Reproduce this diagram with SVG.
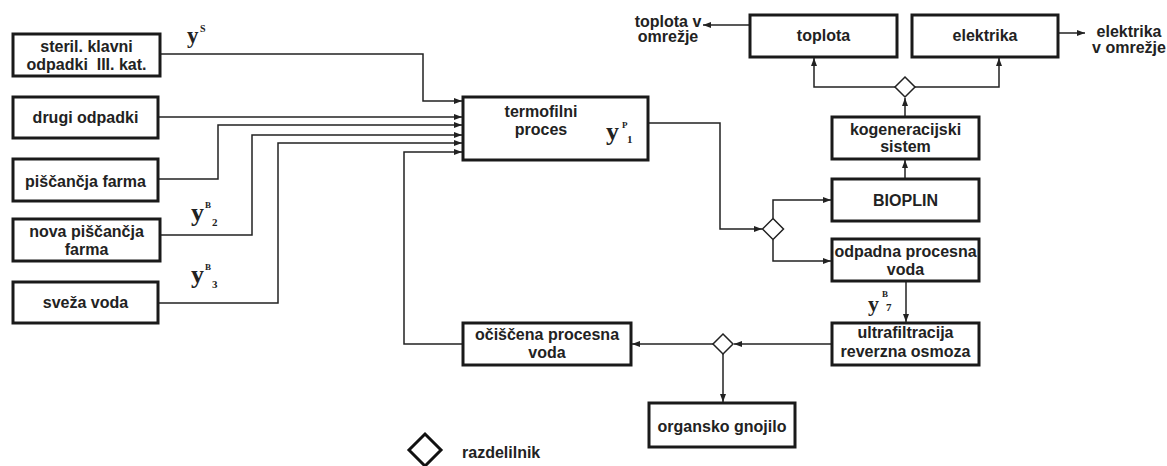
<svg xmlns="http://www.w3.org/2000/svg" width="1167" height="466" viewBox="0 0 1167 466">
<style>
.box{fill:#fff;stroke:#1a1a1a;stroke-width:3}
.t{font-family:"Liberation Sans",Arial,sans-serif;font-weight:bold;font-size:16px;fill:#222;text-anchor:middle}
.tl{font-family:"Liberation Sans",Arial,sans-serif;font-weight:bold;font-size:16px;fill:#222}
.c{fill:none;stroke:#222;stroke-width:1.5}
.dia{fill:#fff;stroke:#222;stroke-width:1.5}
.v{font-family:"Liberation Serif","Times New Roman",serif;font-weight:bold;fill:#222}
</style>
<defs>
<marker id="a" markerUnits="userSpaceOnUse" markerWidth="9" markerHeight="7" refX="8" refY="3" orient="auto">
<path d="M0,0 L8,3 L0,6 z" fill="#222"/>
</marker>
</defs>
<rect width="1167" height="466" fill="#fff"/>
<g id="connectors">
<path class="c" d="M160,54 H423 V101 H462" marker-end="url(#a)"/>
<path class="c" d="M158,117 H462" marker-end="url(#a)"/>
<path class="c" d="M158,179 H218 V125 H462" marker-end="url(#a)"/>
<path class="c" d="M160,235 H252 V135 H462" marker-end="url(#a)"/>
<path class="c" d="M158,303 H278 V143 H462" marker-end="url(#a)"/>
<path class="c" d="M463,344 H404 V152 H462" marker-end="url(#a)"/>
<path class="c" d="M648,123 H720 V229 H762" marker-end="url(#a)"/>
<path class="c" d="M773,218.5 V200 H831" marker-end="url(#a)"/>
<path class="c" d="M773,239.5 V261 H831" marker-end="url(#a)"/>
<path class="c" d="M905,179 V160" marker-end="url(#a)"/>
<path class="c" d="M905,117 V98" marker-end="url(#a)"/>
<path class="c" d="M895,87 H814 V58" marker-end="url(#a)"/>
<path class="c" d="M915,87 H999 V58" marker-end="url(#a)"/>
<path class="c" d="M750,25 H703" marker-end="url(#a)"/>
<path class="c" d="M1058,33 H1085" marker-end="url(#a)"/>
<path class="c" d="M906,281 V322" marker-end="url(#a)"/>
<path class="c" d="M832,344 H734" marker-end="url(#a)"/>
<path class="c" d="M713,344 H632" marker-end="url(#a)"/>
<path class="c" d="M723,354 V402" marker-end="url(#a)"/>
</g>
<g id="n-steril"><rect class="box" x="13" y="34" width="147" height="42"/><text class="t" x="86.5" y="52">steril. klavni</text><text class="t" x="86.5" y="70">odpadki&#160; III. kat.</text></g>
<g id="n-drugi"><rect class="box" x="13" y="97" width="145" height="41"/><text class="t" x="85.5" y="123">drugi odpadki</text></g>
<g id="n-piscancja"><rect class="box" x="13" y="159" width="145" height="42"/><text class="t" x="85.5" y="187">piščančja farma</text></g>
<g id="n-nova"><rect class="box" x="13" y="219" width="147" height="42"/><text class="t" x="86.5" y="237">nova piščančja</text><text class="t" x="86.5" y="255">farma</text></g>
<g id="n-sveza"><rect class="box" x="13" y="282" width="145" height="41"/><text class="t" x="85.5" y="308">sveža voda</text></g>
<g id="n-termofilni"><rect class="box" x="463" y="97" width="185" height="63"/><text class="t" x="541" y="117">termofilni</text><text class="t" x="541" y="135">proces</text></g>
<g id="n-toplota"><rect class="box" x="750" y="15" width="147" height="42"/><text class="t" x="823.5" y="41">toplota</text></g>
<g id="n-elektrika"><rect class="box" x="912" y="15" width="146" height="42"/><text class="t" x="985" y="41">elektrika</text></g>
<g id="n-kogeneracijski"><rect class="box" x="832" y="117" width="147" height="42"/><text class="t" x="905.5" y="135">kogeneracijski</text><text class="t" x="905.5" y="152">sistem</text></g>
<g id="n-bioplin"><rect class="box" x="832" y="179" width="147" height="42"/><text class="t" x="905.5" y="206">BIOPLIN</text></g>
<g id="n-odpadna"><rect class="box" x="832" y="239" width="147" height="42"/><text class="t" x="905.5" y="257">odpadna procesna</text><text class="t" x="905.5" y="275">voda</text></g>
<g id="n-ultra"><rect class="box" x="832" y="323" width="147" height="42"/><text class="t" x="905.5" y="338">ultrafiltracija</text><text class="t" x="905.5" y="357">reverzna osmoza</text></g>
<g id="n-ociscena"><rect class="box" x="463" y="323" width="168" height="42"/><text class="t" x="547" y="340">očiščena procesna</text><text class="t" x="547" y="358">voda</text></g>
<g id="n-organsko"><rect class="box" x="649" y="403" width="146" height="44"/><text class="t" x="722" y="432">organsko gnojilo</text></g>
<g id="d-top"><path class="dia" d="M905,77 L915,87 L905,97 L895,87 z"/></g>
<g id="d-mid"><path class="dia" d="M773,218.5 L783.5,229 L773,239.5 L762.5,229 z"/></g>
<g id="d-bot"><path class="dia" d="M723,334 L733,344 L723,354 L713,344 z"/></g>
<g id="out-toplota"><text class="t" x="668" y="27">toplota v</text><text class="t" x="668" y="42">omrežje</text></g>
<g id="out-elektrika"><text class="t" x="1129" y="37">elektrika</text><text class="t" x="1129" y="53">v omrežje</text></g>
<g id="labels">
<text class="v" x="187" y="43" font-size="23">y</text><text class="v" x="200" y="32" font-size="10">S</text>
<text class="v" x="191" y="221" font-size="26">y</text><text class="v" x="205" y="208" font-size="9">B</text><text class="v" x="212" y="226" font-size="11">2</text>
<text class="v" x="191" y="283" font-size="26">y</text><text class="v" x="205" y="270" font-size="9">B</text><text class="v" x="212" y="288" font-size="11">3</text>
<text class="v" x="606" y="140" font-size="26">y</text><text class="v" x="622" y="128" font-size="9">P</text><text class="v" x="627" y="143" font-size="11">1</text>
<text class="v" x="868" y="311" font-size="22">y</text><text class="v" x="882" y="297" font-size="9">B</text><text class="v" x="886" y="311" font-size="11">7</text>
</g>
<g id="legend"><path d="M425,434 L441,450 L425,466 L409,450 z" fill="#fff" stroke="#111" stroke-width="3"/><text class="tl" x="462" y="458">razdelilnik</text></g>
</svg>
